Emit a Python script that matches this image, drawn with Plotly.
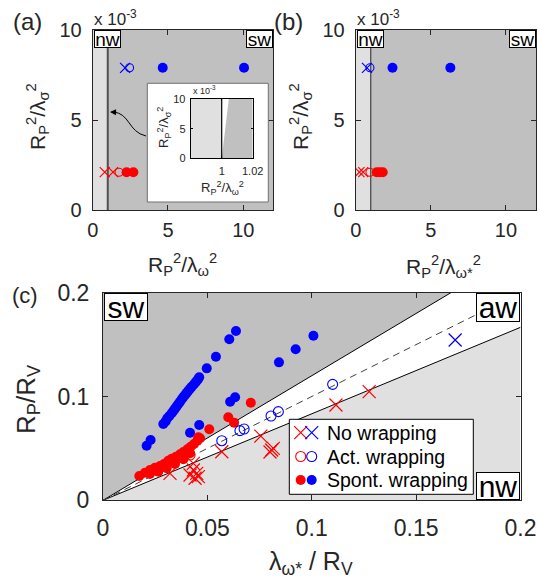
import plotly.graph_objects as go

W, H = 538, 587
FONT = "Liberation Sans, Arial, Helvetica, sans-serif"
TXT = "#262626"
RED, BLUE = "#ff0000", "#0000ff"
DARK, LIGHT = "#c0c0c0", "#e0e0e0"

# ---------------- Panel (a): R_P^2/lambda_omega^2 vs R_P^2/lambda_sigma^2 (y in 1e-3) ----
a_nowrap_red_x = [0.8, 1.35];   a_nowrap_red_y = [2.1, 2.1]
a_act_red_x = [1.75];           a_act_red_y = [2.1]
a_spont_red_x = [2.25, 2.7];    a_spont_red_y = [2.1, 2.1]
a_nowrap_blue_x = [2.15];       a_nowrap_blue_y = [7.9]
a_act_blue_x = [2.45];          a_act_blue_y = [7.9]
a_spont_blue_x = [4.65, 10.05]; a_spont_blue_y = [7.9, 7.9]

# ---------------- Panel (b): R_P^2/lambda_omega*^2 ----
b_nowrap_red_x = [0.25, 0.5];   b_nowrap_red_y = [2.1, 2.1]
b_act_red_x = [0.95];           b_act_red_y = [2.1]
b_spont_red_x = [1.4, 1.6, 1.8]; b_spont_red_y = [2.1, 2.1, 2.1]
b_nowrap_blue_x = [0.75];       b_nowrap_blue_y = [7.9]
b_act_blue_x = [0.95];          b_act_blue_y = [7.9]
b_spont_blue_x = [2.45, 6.3];   b_spont_blue_y = [7.9, 7.9]

nw_limit = 1.0          # wrapping threshold R_P^2/lambda^2 = 1
ab_xmax, ab_ymax = 12, 10
inset_wedge_top = 1.0046

# ---------------- Panel (c) ----
c_spont_blue_x = [0.0209, 0.0228, 0.0289, 0.0300, 0.0308, 0.0318, 0.0329, 0.0337, 0.0345, 0.0353,
                  0.0361, 0.0369, 0.0377, 0.0385, 0.0393, 0.0401, 0.0409, 0.0417, 0.0425, 0.0436,
                  0.0446, 0.0455, 0.0461, 0.0497, 0.0541, 0.0605, 0.0637, 0.0417, 0.0461, 0.0609,
                  0.0633, 0.0843, 0.0923, 0.1008]
c_spont_blue_y = [0.0526, 0.0581, 0.0735, 0.0760, 0.0790, 0.0812, 0.0838, 0.0860, 0.0883, 0.0905,
                  0.0928, 0.0950, 0.0973, 0.0994, 0.1014, 0.1035, 0.1056, 0.1075, 0.1094, 0.1118,
                  0.1143, 0.1165, 0.1185, 0.1271, 0.1383, 0.1551, 0.1631, 0.0651, 0.0725, 0.0950,
                  0.0992, 0.1329, 0.1455, 0.1586]
c_spont_red_x = [0.0174, 0.0201, 0.0225, 0.0249, 0.0273, 0.0292, 0.0313, 0.0329, 0.0350, 0.0369,
                 0.0385, 0.0404, 0.0420, 0.0436, 0.0452, 0.0465, 0.0225, 0.0265, 0.0305, 0.0345,
                 0.0385, 0.0417, 0.0457, 0.0509, 0.0600, 0.0628, 0.0708]
c_spont_red_y = [0.0234, 0.0266, 0.0292, 0.0314, 0.0330, 0.0350, 0.0382, 0.0401, 0.0420, 0.0443,
                 0.0465, 0.0491, 0.0516, 0.0542, 0.0574, 0.0597, 0.0253, 0.0276, 0.0308, 0.0350,
                 0.0395, 0.0453, 0.0607, 0.0684, 0.0800, 0.0748, 0.0940]
c_nowrap_red_x = [0.0321, 0.0417, 0.0433, 0.0441, 0.0449, 0.0457, 0.0433, 0.0569, 0.0756, 0.0800,
                  0.0808, 0.0816, 0.1116, 0.1275]
c_nowrap_red_y = [0.0260, 0.0244, 0.0292, 0.0212, 0.0260, 0.0228, 0.0356, 0.0468, 0.0619, 0.0465,
                  0.0485, 0.0500, 0.0918, 0.1047]
c_nowrap_blue_x = [0.1687]
c_nowrap_blue_y = [0.1544]
c_act_red_x = [0.0417]
c_act_red_y = [0.0436]
c_act_blue_x = [0.0569, 0.0656, 0.0676, 0.0805, 0.0840, 0.1100]
c_act_blue_y = [0.0574, 0.0671, 0.0687, 0.0812, 0.0854, 0.1117]

upper_slope = 1.2        # sw / aw boundary
lower_slope = 1 / 1.2    # aw / nw boundary
c_max = 0.2

legend_labels = ["No wrapping", "Act. wrapping", "Spont. wrapping"]

# ---------------- helpers ----------------
def PX(x): return x / W
def PY(y): return 1 - y / H

def axis(domain, rng, tickvals, size, anchor, ticktext=None, ticklen=5, standoff=6):
    d = dict(domain=domain, range=rng, tickvals=tickvals, ticks="inside", ticklen=ticklen,
             tickwidth=1, tickcolor=TXT, showline=True, linecolor=TXT, linewidth=1,
             mirror="ticks", showgrid=False, zeroline=False, anchor=anchor, automargin=False,
             tickfont=dict(size=size, color=TXT, family=FONT), ticklabelstandoff=standoff)
    if ticktext is not None:
        d["ticktext"] = ticktext
    return d

fig = go.Figure()

def mk(kind, color, size):
    if kind == "x":
        return dict(symbol="x-thin", size=size, line=dict(color=color, width=1.2), color=color)
    if kind == "o":
        return dict(symbol="circle-open", size=size, line=dict(color=color, width=1.1), color=color)
    return dict(symbol="circle", size=size, color=color, line=dict(width=0))

def add(x, y, kind, color, size, xa, ya):
    fig.add_trace(go.Scatter(x=x, y=y, mode="markers", marker=mk(kind, color, size),
                             xaxis=xa, yaxis=ya, showlegend=False, hoverinfo="skip"))

# panel (a)
for xs, ys, k, c in [(a_nowrap_red_x, a_nowrap_red_y, "x", RED), (a_act_red_x, a_act_red_y, "o", RED),
                     (a_spont_red_x, a_spont_red_y, "f", RED), (a_nowrap_blue_x, a_nowrap_blue_y, "x", BLUE),
                     (a_act_blue_x, a_act_blue_y, "o", BLUE), (a_spont_blue_x, a_spont_blue_y, "f", BLUE)]:
    add(xs, ys, k, c, {"x": 10, "o": 8, "f": 10}[k], "x", "y")
# panel (b)
for xs, ys, k, c in [(b_nowrap_red_x, b_nowrap_red_y, "x", RED), (b_act_red_x, b_act_red_y, "o", RED),
                     (b_spont_red_x, b_spont_red_y, "f", RED), (b_nowrap_blue_x, b_nowrap_blue_y, "x", BLUE),
                     (b_act_blue_x, b_act_blue_y, "o", BLUE), (b_spont_blue_x, b_spont_blue_y, "f", BLUE)]:
    add(xs, ys, k, c, {"x": 10, "o": 8, "f": 10}[k], "x2", "y2")

# panel (c) boundary lines
fig.add_trace(go.Scatter(x=[0, c_max / upper_slope], y=[0, c_max], mode="lines",
                         line=dict(color="black", width=1), xaxis="x3", yaxis="y3",
                         showlegend=False, hoverinfo="skip"))
fig.add_trace(go.Scatter(x=[0, c_max], y=[0, c_max * lower_slope], mode="lines",
                         line=dict(color="black", width=1), xaxis="x3", yaxis="y3",
                         showlegend=False, hoverinfo="skip"))
fig.add_trace(go.Scatter(x=[0, c_max], y=[0, c_max], mode="lines",
                         line=dict(color="#404040", width=1, dash="7px,5px"), xaxis="x3", yaxis="y3",
                         showlegend=False, hoverinfo="skip"))
for xs, ys, k, c in [(c_spont_blue_x, c_spont_blue_y, "f", BLUE), (c_spont_red_x, c_spont_red_y, "f", RED),
                     (c_nowrap_red_x, c_nowrap_red_y, "x", RED), (c_nowrap_blue_x, c_nowrap_blue_y, "x", BLUE),
                     (c_act_red_x, c_act_red_y, "o", RED), (c_act_blue_x, c_act_blue_y, "o", BLUE)]:
    add(xs, ys, k, c, {"x": 13, "o": 10, "f": 10}[k], "x3", "y3")

# ---------- pixel overlay (x4/y4): inset box, legend box and keys ----------
ib = (147.3, 83.3, 268.3, 202.0)
fig.add_trace(go.Scatter(x=[ib[0], ib[2], ib[2], ib[0], ib[0]], y=[ib[1], ib[1], ib[3], ib[3], ib[1]],
                         mode="lines", fill="toself", fillcolor="white", line=dict(color="#707070", width=1),
                         xaxis="x4", yaxis="y4", showlegend=False, hoverinfo="skip"))
lb = (289.3, 419.3, 473.3, 494.3)
fig.add_trace(go.Scatter(x=[lb[0], lb[2], lb[2], lb[0], lb[0]], y=[lb[1], lb[1], lb[3], lb[3], lb[1]],
                         mode="lines", fill="toself", fillcolor="white", line=dict(color="black", width=1),
                         xaxis="x4", yaxis="y4", showlegend=False, hoverinfo="skip"))
rows_y = [432.7, 456.5, 480.0]
for (k, sz), ry in zip([("x", 13), ("o", 10), ("f", 10)], rows_y):
    add([300.7], [ry], k, RED, sz, "x4", "y4")
    add([311.7], [ry], k, BLUE, sz, "x4", "y4")

# ---------- inset (x5/y5) ----------
fig.add_trace(go.Scatter(x=[nw_limit, nw_limit], y=[0, ab_ymax], mode="lines",
                         line=dict(color="black", width=1.2), xaxis="x5", yaxis="y5",
                         showlegend=False, hoverinfo="skip"))

shapes = []
for xr, yr in [("x", "y"), ("x2", "y2")]:
    shapes.append(dict(type="rect", xref=xr, yref=yr, x0=0, x1=nw_limit, y0=0, y1=ab_ymax,
                       fillcolor=LIGHT, line=dict(width=0), layer="below"))
    shapes.append(dict(type="rect", xref=xr, yref=yr, x0=nw_limit, x1=ab_xmax, y0=0, y1=ab_ymax,
                       fillcolor=DARK, line=dict(width=0), layer="below"))
shapes.append(dict(type="line", xref="x", yref="y", x0=nw_limit, x1=nw_limit, y0=0, y1=ab_ymax,
                   line=dict(color="#505050", width=2), layer="below"))
shapes.append(dict(type="line", xref="x2", yref="y2", x0=nw_limit, x1=nw_limit, y0=0, y1=ab_ymax,
                   line=dict(color="#404040", width=1.2), layer="below"))
# panel (c) regions
shapes.append(dict(type="path", xref="x3", yref="y3",
                   path=f"M 0,0 L {c_max/upper_slope},{c_max} L 0,{c_max} Z",
                   fillcolor=DARK, line=dict(width=0), layer="below"))
shapes.append(dict(type="path", xref="x3", yref="y3",
                   path=f"M 0,0 L {c_max},{c_max*lower_slope} L {c_max},0 Z",
                   fillcolor=LIGHT, line=dict(width=0), layer="below"))
# inset regions
shapes.append(dict(type="rect", xref="x5", yref="y5", x0=0.98, x1=nw_limit, y0=0, y1=ab_ymax,
                   fillcolor=LIGHT, line=dict(width=0), layer="below"))
shapes.append(dict(type="path", xref="x5", yref="y5",
                   path=f"M {nw_limit},0 L 1.02,0 L 1.02,{ab_ymax} L {inset_wedge_top},{ab_ymax} Z",
                   fillcolor=DARK, line=dict(width=0), layer="below"))
# curved arrow from inset to the threshold line
shapes.append(dict(type="path", xref="paper", yref="paper",
                   path=f"M {PX(146)},{PY(136)} C {PX(128)},{PY(132)} {PX(130)},{PY(113)} {PX(113)},{PY(112)}",
                   line=dict(color="black", width=1), layer="above"))

ann = []
def text(x, y, t, size, xanchor="center", yanchor="middle", angle=0, **kw):
    ann.append(dict(x=PX(x), y=PY(y), xref="paper", yref="paper", text=t, showarrow=False,
                    xanchor=xanchor, yanchor=yanchor, textangle=angle,
                    font=dict(size=size, color=kw.pop("color", TXT), family=FONT), **kw))

def box(x, y, t, size, w, h, xanchor, yanchor):
    ann.append(dict(x=PX(x), y=PY(y), xref="paper", yref="paper", text=t, showarrow=False,
                    xanchor=xanchor, yanchor=yanchor, width=w, height=h, borderpad=0,
                    bgcolor="white", bordercolor="black", borderwidth=1,
                    font=dict(size=size, color="black", family=FONT)))

# panel labels and exponents
text(27, 21, "(a)", 24)
text(288, 21, "(b)", 24)
text(25, 296, "(c)", 22)
text(92, 31, "x 10<sup>-3</sup>", 17, xanchor="left", yanchor="bottom")
text(355, 31, "x 10<sup>-3</sup>", 17, xanchor="left", yanchor="bottom")
text(191, 98, "x 10<sup>-3</sup>", 9, xanchor="left", yanchor="bottom")

# axis titles
text(37, 117, "R<sub>P</sub><sup>2</sup>/λ<sub>σ</sub><sup>2</sup>", 21, angle=-90)
text(182, 264, "R<sub>P</sub><sup>2</sup>/λ<sub>ω</sub><sup>2</sup>", 21)
text(300, 117, "R<sub>P</sub><sup>2</sup>/λ<sub>σ</sub><sup>2</sup>", 21, angle=-90)
text(443, 266, "R<sub>P</sub><sup>2</sup>/λ<sub>ω*</sub><sup>2</sup>", 21)
text(27, 399, "R<sub>P</sub>/R<sub>V</sub>", 26, angle=-90)
text(311, 563, "λ<sub>ω*</sub> / R<sub>V</sub>", 25)
text(164, 128, "R<sub>P</sub><sup>2</sup>/λ<sub>σ</sub><sup>2</sup>", 13, angle=-90)
text(222, 188, "R<sub>P</sub><sup>2</sup>/λ<sub>ω</sub><sup>2</sup>", 13)

# region labels
box(93.5, 30.5, "nw", 19, 25, 16, "left", "top")
box(272.5, 30.5, "sw", 19, 25, 16, "right", "top")
box(356.5, 30.5, "nw", 19, 25, 16, "left", "top")
box(535.5, 30.5, "sw", 19, 25, 16, "right", "top")
box(103.5, 293, "sw", 30, 42, 26, "left", "top")
box(520, 293, "aw", 30, 42, 27, "right", "top")
box(520, 500, "nw", 30, 42, 26, "right", "bottom")

# legend texts
for t, ry in zip(legend_labels, rows_y):
    text(325, ry, t, 19.5, xanchor="left", color="black")

# arrowhead
ann.append(dict(x=PX(110), y=PY(112), xref="paper", yref="paper", ax=8, ay=0.3,
                axref="pixel", ayref="pixel", text="", showarrow=True, arrowhead=2, arrowsize=1.2,
                arrowwidth=1, arrowcolor="black"))

fig.update_layout(
    template="none",
    width=W, height=H, margin=dict(l=0, r=0, t=0, b=0, pad=0, autoexpand=False),
    paper_bgcolor="white", plot_bgcolor="rgba(0,0,0,0)", showlegend=False,
    font=dict(family=FONT, color=TXT),
    xaxis=axis([92.7 / W, 273.4 / W], [0, ab_xmax], [0, 5, 10], 20, "y", standoff=2),
    yaxis=axis([PY(210), PY(30)], [0, ab_ymax], [0, 5, 10], 20, "x", standoff=6),
    xaxis2=axis([355.7 / W, 536 / W], [0, ab_xmax], [0, 5, 10], 20, "y2", standoff=2),
    yaxis2=axis([PY(210), PY(30)], [0, ab_ymax], [0, 5, 10], 20, "x2", standoff=6),
    xaxis3=axis([103 / W, 520.5 / W], [0, c_max], [0, 0.05, 0.1, 0.15, 0.2], 23, "y3",
                ticktext=["0", "0.05", "0.1", "0.15", "0.2"], standoff=7),
    yaxis3=axis([PY(500.3), PY(292.7)], [0, c_max], [0, 0.1, 0.2], 23, "x3",
                ticktext=["0", "0.1", "0.2"], standoff=8),
    xaxis4=dict(domain=[0, 1], range=[0, W], visible=False, anchor="y4", automargin=False),
    yaxis4=dict(domain=[0, 1], range=[H, 0], visible=False, anchor="x4", automargin=False),
    xaxis5=axis([190.7 / W, 252.7 / W], [0.98, 1.02], [1, 1.02], 11, "y5",
                ticktext=["1", "1.02"], ticklen=2, standoff=2),
    yaxis5=axis([PY(158.3), PY(99)], [0, ab_ymax], [0, 5, 10], 11, "x5", ticklen=2, standoff=2),
    shapes=shapes, annotations=ann,
)
fig.update_layout(xaxis5=dict(linecolor="black", tickcolor="black"),
                  yaxis5=dict(linecolor="black", tickcolor="black"))

fig.write_html("out.html")
